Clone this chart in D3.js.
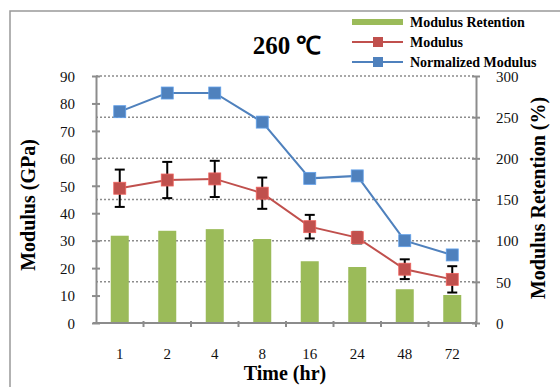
<!DOCTYPE html>
<html>
<head>
<meta charset="utf-8">
<script src="https://cdn.jsdelivr.net/npm/d3@7"></script>
<style>
  body { margin: 0; background: #fff; }
  svg { display: block; font-family: "Liberation Serif", "Times New Roman", serif; }
  .grid-line { stroke: #8c8c8c; stroke-width: 1.5; stroke-dasharray: 2 2; }
  .axis path, .axis line { stroke: #8c8c8c; stroke-width: 2; }
  .axis text { font-family: "Liberation Serif", "Times New Roman", serif; font-size: 15px; fill: #111; }
  .title { font-weight: bold; fill: #000; }
  .legend-label { font-size: 14px; font-weight: bold; }
</style>
</head>
<body>
<div id="wrapper"></div>
<script>
// chart values
const times = ["1", "2", "4", "8", "16", "24", "48", "72"];
const retention = [106, 112, 114, 102, 75, 68, 41, 34];           // %, right axis
const modulus = [49.1, 52.1, 52.5, 47.3, 35.1, 31.1, 19.6, 15.9];  // GPa
const modulusError = [6.8, 6.6, 6.6, 5.7, 4.3, 2.1, 3.6, 4.8];
const normalizedModulus = [77.0, 83.8, 83.8, 73.2, 52.7, 53.6, 30.0, 24.8];
const leftTicks = [0, 10, 20, 30, 40, 50, 60, 70, 80, 90];
const rightTicks = [0, 50, 100, 150, 200, 250, 300];
const legendNames = ["Modulus Retention", "Modulus", "Normalized Modulus"];

async function drawChart() {

  // 1. Dimensions
  const dimensions = {
    width: 560,
    height: 387,
    margin: { top: 76, right: 84, bottom: 64, left: 96 },
    boundedWidth: 0,
    boundedHeight: 0,
    barWidth: 18,
    markerSize: 12,
  };
  dimensions.boundedWidth = dimensions.width - dimensions.margin.left - dimensions.margin.right;
  dimensions.boundedHeight = dimensions.height - dimensions.margin.top - dimensions.margin.bottom;

  // 2. Canvas
  const wrapper = d3.select("#wrapper")
    .append("svg")
      .attr("width", dimensions.width)
      .attr("height", dimensions.height);

  // outer chart border (runs off right / bottom)
  wrapper.append("rect")
      .attr("x", 10)
      .attr("y", 11)
      .attr("width", 600)
      .attr("height", 450)
      .attr("fill", "none")
      .attr("stroke", "#999")
      .attr("stroke-width", 1.5);

  const bounds = wrapper.append("g")
      .attr("transform", `translate(${dimensions.margin.left}, ${dimensions.margin.top})`);

  // 3. Scales
  const xScale = d3.scaleBand()
    .domain(times)
    .range([0, dimensions.boundedWidth]);

  const yScale = d3.scaleLinear()
    .domain([0, 90])
    .range([dimensions.boundedHeight, 0]);

  const yRightScale = d3.scaleLinear()
    .domain([0, 300])
    .range([dimensions.boundedHeight, 0]);

  const xCenter = d => xScale(d) + xScale.bandwidth() / 2;

  // 4. Gridlines (from right axis ticks)
  bounds.append("g").selectAll(".grid-line")
    .data(rightTicks.filter(d => d > 0))
    .join("line")
      .attr("class", "grid-line")
      .attr("x1", 0)
      .attr("x2", dimensions.boundedWidth)
      .attr("y1", d => yRightScale(d))
      .attr("y2", d => yRightScale(d));

  // 5. Bars
  bounds.append("g").selectAll("rect")
    .data(times)
    .join("rect")
      .attr("x", d => xCenter(d) - dimensions.barWidth / 2)
      .attr("y", (d, i) => yRightScale(retention[i]))
      .attr("width", dimensions.barWidth)
      .attr("height", (d, i) => dimensions.boundedHeight - yRightScale(retention[i]))
      .attr("fill", "#9bbb59");

  // 6. Axes
  const yAxis = bounds.append("g")
      .attr("class", "axis")
      .call(d3.axisLeft(yScale).tickValues(leftTicks).tickSize(4).tickSizeOuter(0).tickPadding(17));
  yAxis.selectAll(".tick line").attr("x1", 4);
  yAxis.selectAll(".tick text").attr("dy", "0.35em");

  const yRightAxis = bounds.append("g")
      .attr("class", "axis")
      .attr("transform", `translate(${dimensions.boundedWidth}, 0)`)
      .call(d3.axisRight(yRightScale).tickValues(rightTicks).tickSize(4).tickSizeOuter(0).tickPadding(16));
  yRightAxis.selectAll(".tick line").attr("x1", -4);
  yRightAxis.selectAll(".tick text").attr("dy", "0.35em");

  const xAxis = bounds.append("g")
      .attr("class", "axis")
      .attr("transform", `translate(0, ${dimensions.boundedHeight})`);
  xAxis.append("line")
      .attr("x1", -3)
      .attr("x2", dimensions.boundedWidth)
      .attr("y1", 0)
      .attr("y2", 0);
  xAxis.selectAll(".x-tick")
    .data([...times.slice(1), null])
    .join("line")
      .attr("class", "x-tick")
      .attr("x1", d => d === null ? dimensions.boundedWidth : xScale(d))
      .attr("x2", d => d === null ? dimensions.boundedWidth : xScale(d))
      .attr("y1", -2)
      .attr("y2", 4);
  xAxis.selectAll(".x-label")
    .data(times)
    .join("text")
      .attr("class", "x-label")
      .attr("x", xCenter)
      .attr("y", 36)
      .attr("text-anchor", "middle")
      .style("font-size", "15px")
      .text(d => d);

  // 7. Lines
  const modulusLine = d3.line()
    .x((d, i) => xCenter(times[i]))
    .y(d => yScale(d));

  const series = [
    { values: normalizedModulus, color: "#4f81bd" },
    { values: modulus, color: "#c0504d" },
  ];

  // error bars first, under the red markers
  const errors = bounds.append("g");
  times.forEach((t, i) => {
    const x = xCenter(t);
    const top = yScale(modulus[i] + modulusError[i]);
    const bottom = yScale(modulus[i] - modulusError[i]);
    errors.append("line")
        .attr("x1", x).attr("x2", x)
        .attr("y1", top).attr("y2", bottom)
        .attr("stroke", "#000").attr("stroke-width", 2);
    [top, bottom].forEach(y => {
      errors.append("line")
          .attr("x1", x - 5).attr("x2", x + 5)
          .attr("y1", y).attr("y2", y)
          .attr("stroke", "#000").attr("stroke-width", 2);
    });
  });

  series.forEach(s => {
    bounds.append("path")
        .attr("d", modulusLine(s.values))
        .attr("fill", "none")
        .attr("stroke", s.color)
        .attr("stroke-width", 2);
    bounds.append("g").selectAll("rect")
      .data(s.values)
      .join("rect")
        .attr("x", (d, i) => xCenter(times[i]) - dimensions.markerSize / 2)
        .attr("y", d => yScale(d) - dimensions.markerSize / 2)
        .attr("width", dimensions.markerSize)
        .attr("height", dimensions.markerSize)
        .attr("fill", s.color)
        .attr("stroke", d3.color(s.color).brighter(0.6))
        .attr("stroke-width", 0.8);
  });

  // 8. Titles
  wrapper.append("text")
      .attr("class", "title")
      .attr("x", 287)
      .attr("y", 54)
      .attr("text-anchor", "middle")
      .style("font-size", "25px")
      .text("260 ℃");

  wrapper.append("text")
      .attr("class", "title")
      .attr("transform", "translate(35, 205) rotate(-90)")
      .attr("text-anchor", "middle")
      .style("font-size", "20px")
      .text("Modulus (GPa)");

  wrapper.append("text")
      .attr("class", "title")
      .attr("transform", "translate(545, 198) rotate(-90)")
      .attr("text-anchor", "middle")
      .style("font-size", "20px")
      .text("Modulus Retention (%)");

  wrapper.append("text")
      .attr("class", "title")
      .attr("x", 285)
      .attr("y", 380)
      .attr("text-anchor", "middle")
      .style("font-size", "20px")
      .text("Time (hr)");

  // 9. Legend
  const legend = wrapper.append("g")
      .attr("transform", "translate(352, 22)");
  const legendColors = ["#9bbb59", "#c0504d", "#4f81bd"];
  legendNames.forEach((name, i) => {
    const row = legend.append("g")
        .attr("transform", `translate(0, ${i * 20})`);
    if (i === 0) {
      row.append("rect")
          .attr("x", 0).attr("y", -3)
          .attr("width", 51).attr("height", 6)
          .attr("fill", legendColors[i]);
    } else {
      row.append("line")
          .attr("x1", 0).attr("x2", 51)
          .attr("y1", 0).attr("y2", 0)
          .attr("stroke", legendColors[i])
          .attr("stroke-width", 2);
      row.append("rect")
          .attr("x", 21).attr("y", -5)
          .attr("width", 10).attr("height", 10)
          .attr("fill", legendColors[i]);
    }
    row.append("text")
        .attr("class", "legend-label")
        .attr("x", 58)
        .attr("y", 5)
        .text(name);
  });
}
drawChart();
</script>
</body>
</html>
